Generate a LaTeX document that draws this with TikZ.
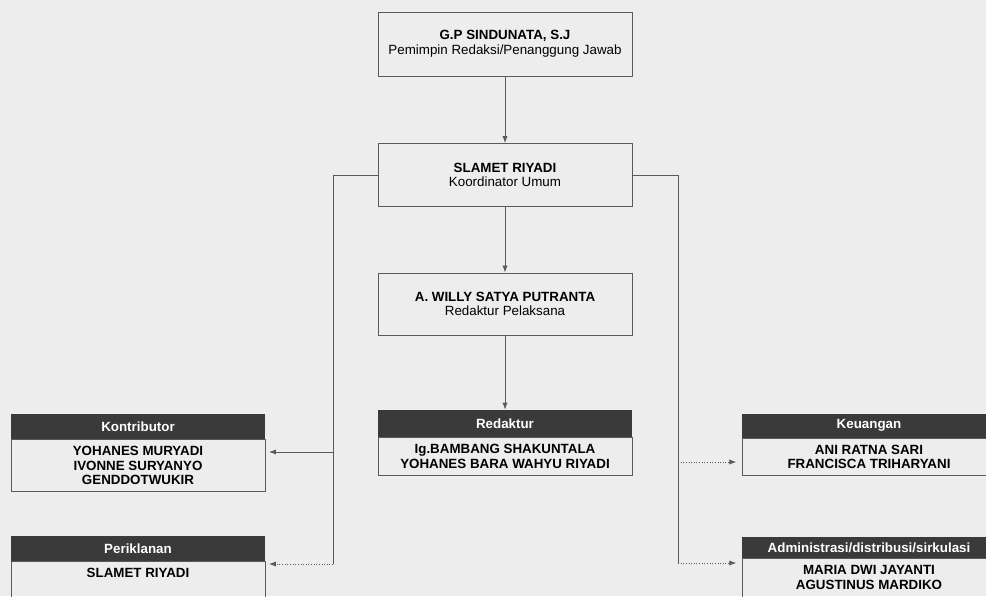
\documentclass[tikz,border=0pt]{standalone}
\usepackage{fontspec}
\setmainfont{Liberation Sans}
\usepackage{tikz}
\usetikzlibrary{positioning, arrows.meta}
\definecolor{latar}{HTML}{EDEDED}
\definecolor{kepala}{HTML}{3A3A3A}
\definecolor{garis}{HTML}{5A5A5A}

\begin{document}
\begin{tikzpicture}[x=0.02cm, y=-0.02cm, font=\fontsize{7.6}{8.3}\selectfont,
        kotak/.style={draw=garis, line width=0.5pt, align=center, minimum width=5.08cm},
        judul/.style={fill=kepala, text=white, font=\fontsize{7.6}{8.3}\selectfont\bfseries, minimum width=5.08cm, inner sep=0pt},
        isi/.style={kotak, font=\fontsize{7.6}{8.3}\selectfont\bfseries, inner ysep=3.8pt, below=0pt of #1},
        hubung/.style={draw=garis, line width=0.5pt},
        panah/.style={hubung, -{Latex[length=4pt, width=3pt]}}]
            \useasboundingbox (0,0) rectangle (986,596);
            \fill[latar] (0,0) rectangle (986,596);
            \clip (0,0) rectangle (986,596);
            \node[kotak, minimum height=1.28cm] (PJ) at (505,44) {\textbf{G.P SINDUNATA, S.J}\\Pemimpin Redaksi/Penanggung Jawab};
            \node[kotak, minimum height=1.26cm] (KU) at (505,175) {\textbf{SLAMET RIYADI}\\Koordinator Umum};
            \node[kotak, minimum height=1.24cm] (RP) at (505,304) {\textbf{A. WILLY SATYA PUTRANTA}\\Redaktur Pelaksana};
            \node[judul, minimum height=0.54cm] (RD) at (505,423.5) {Redaktur};
            \node[isi=RD] (RDb) {Ig.BAMBANG SHAKUNTALA\\YOHANES BARA WAHYU RIYADI};
            \node[judul, minimum height=0.5cm] (KT) at (138,426.5) {Kontributor};
            \node[isi=KT] (KTb) {YOHANES MURYADI\\IVONNE SURYANYO\\GENDDOTWUKIR};
            \node[judul, minimum height=0.5cm] (PK) at (138,548.5) {Periklanan};
            \node[isi=PK, text depth=30pt] (PKb) {SLAMET RIYADI};
            \node[judul, minimum height=0.48cm] (KG) at (869,425.5) {Keuangan};
            \node[isi=KG] (KGb) {ANI RATNA SARI\\FRANCISCA TRIHARYANI};
            \node[judul, minimum height=0.42cm] (AD) at (869,547.5) {Administrasi/distribusi/sirkulasi};
            \node[isi=AD, text depth=30pt] (ADb) {MARIA DWI JAYANTI\\AGUSTINUS MARDIKO};
            \coordinate (L1) at (333,452);
            \coordinate (L2) at (333,564);
            \coordinate (R1) at (678,462);
            \coordinate (R2) at (678,563);
            \draw[panah] (PJ) -- (KU);
            \draw[panah] (KU) -- (RP);
            \draw[panah] (RP) -- (RD);
            \draw[hubung] (KU.west) -| (L2);
            \draw[hubung] (KU.east) -| (R2);
            \draw[panah, shorten >=2pt] (L1) -- (L1 -| KTb.east);
            \draw[panah, densely dotted, shorten >=2pt] (L2) -- (L2 -| PKb.east);
            \draw[panah, densely dotted, shorten >=3pt] (R1) -- (R1 -| KGb.west);
            \draw[panah, densely dotted, shorten >=3pt] (R2) -- (R2 -| ADb.west);
\end{tikzpicture}
\end{document}
